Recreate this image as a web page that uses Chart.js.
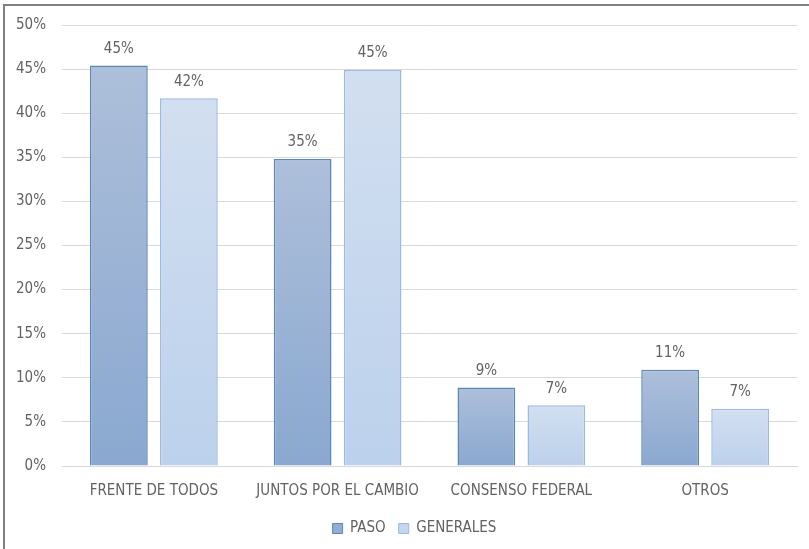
<!DOCTYPE html>
<html>
<head>
<meta charset="utf-8">
<script src="https://cdn.jsdelivr.net/npm/chart.js@4.4.1/dist/chart.umd.min.js"></script>
<style>
html,body{margin:0;padding:0;background:#fff;}
#wrap{width:809px;height:549px;position:relative;}
</style>
</head>
<body>
<div id="wrap"><canvas id="c" width="809" height="549"></canvas></div>
<script>
const categories = ["FRENTE DE TODOS", "JUNTOS POR EL CAMBIO", "CONSENSO FEDERAL", "OTROS"];
const pasoValues = [45.4, 34.8, 8.9, 10.9];
const generalesValues = [41.7, 44.9, 6.9, 6.5];
const seriesNames = ["PASO", "GENERALES"];
const yTicks = [0, 5, 10, 15, 20, 25, 30, 35, 40, 45, 50];

const FONT = "'Liberation Sans Narrow', 'DejaVu Sans Condensed', 'Liberation Sans', sans-serif";
const TXT = '#626262';

function grad(ctx, top, bottom) {
  const chart = ctx.chart;
  const c = chart.ctx;
  const area = chart.chartArea;
  if (!area) return top;
  const ys = chart.scales.y;
  const v = ctx.raw;
  if (v == null) return top;
  const y0 = ys.getPixelForValue(v);
  const y1 = ys.getPixelForValue(0);
  const g = c.createLinearGradient(0, y0, 0, y1);
  g.addColorStop(0, top);
  g.addColorStop(1, bottom);
  return g;
}

const frame = {
  id: 'frame',
  afterDraw(chart) {
    const c = chart.ctx;
    c.save();
    c.strokeStyle = '#808080';
    c.lineWidth = 2;
    c.beginPath();
    c.moveTo(4, 549);
    c.lineTo(4, 5);
    c.lineTo(809, 5);
    c.stroke();
    c.restore();
  }
};

const legendShift = {
  id: 'legendShift',
  afterLayout(chart) {
    if (chart.legend) {
      chart.legend.left += 32;
    }
  }
};

const dataLabels = {
  id: 'dataLabels',
  afterDatasetsDraw(chart) {
    const c = chart.ctx;
    c.save();
    c.font = '15px ' + FONT;
    c.fillStyle = TXT;
    c.textAlign = 'center';
    c.textBaseline = 'bottom';
    chart.data.datasets.forEach((ds, i) => {
      const meta = chart.getDatasetMeta(i);
      meta.data.forEach((el, j) => {
        c.fillText(Math.round(ds.data[j]) + '%', el.x, el.y - 9);
      });
    });
    c.restore();
  }
};

new Chart(document.getElementById('c'), {
  type: 'bar',
  data: {
    labels: categories,
    datasets: [
      {
        label: seriesNames[0],
        data: pasoValues,
        backgroundColor: (ctx) => grad(ctx, '#adbfda', '#8aa8d0'),
        borderColor: '#5b87b8',
        borderWidth: 1.5,
        barPercentage: 0.825,
        categoryPercentage: 0.762
      },
      {
        label: seriesNames[1],
        data: generalesValues,
        backgroundColor: (ctx) => grad(ctx, '#d2dff0', '#bcd1ec'),
        borderColor: '#9dbbe0',
        borderWidth: 1.5,
        barPercentage: 0.825,
        categoryPercentage: 0.762
      }
    ]
  },
  options: {
    responsive: false,
    animation: false,
    devicePixelRatio: 1,
    layout: { padding: { top: 24, right: 12, left: 0, bottom: 3 } },
    plugins: {
      tooltip: { enabled: false },
      legend: {
        position: 'bottom',
        labels: {
          font: { family: FONT, size: 15 },
          color: TXT,
          boxWidth: 10,
          boxHeight: 10,
          padding: 13,
          generateLabels(chart) {
            const cols = [['#92aed4', '#5b87b8'], ['#c5d7ee', '#9dbbe0']];
            return chart.data.datasets.map((ds, i) => ({
              text: ds.label,
              fillStyle: cols[i][0],
              strokeStyle: cols[i][1],
              lineWidth: 1,
              fontColor: TXT,
              datasetIndex: i,
              hidden: false
            }));
          }
        }
      }
    },
    scales: {
      x: {
        grid: { display: false, drawTicks: false },
        border: { display: true, color: '#d9d9d9', width: 1 },
        ticks: { font: { family: FONT, size: 15 }, color: TXT, padding: 16, maxRotation: 0 },
        afterFit(s) { s.height = 42; }
      },
      y: {
        min: 0,
        max: 50,
        afterBuildTicks(s) { s.ticks = yTicks.map(v => ({ value: v })); },
        grid: { color: '#d9d9d9', drawTicks: false, lineWidth: 1 },
        border: { display: false },
        ticks: {
          font: { family: FONT, size: 15 },
          color: TXT,
          padding: 16,
          callback: (v) => v + '%'
        },
        afterFit(s) { s.width = 62; }
      }
    }
  },
  plugins: [frame, legendShift, dataLabels]
});
</script>
</body>
</html>
